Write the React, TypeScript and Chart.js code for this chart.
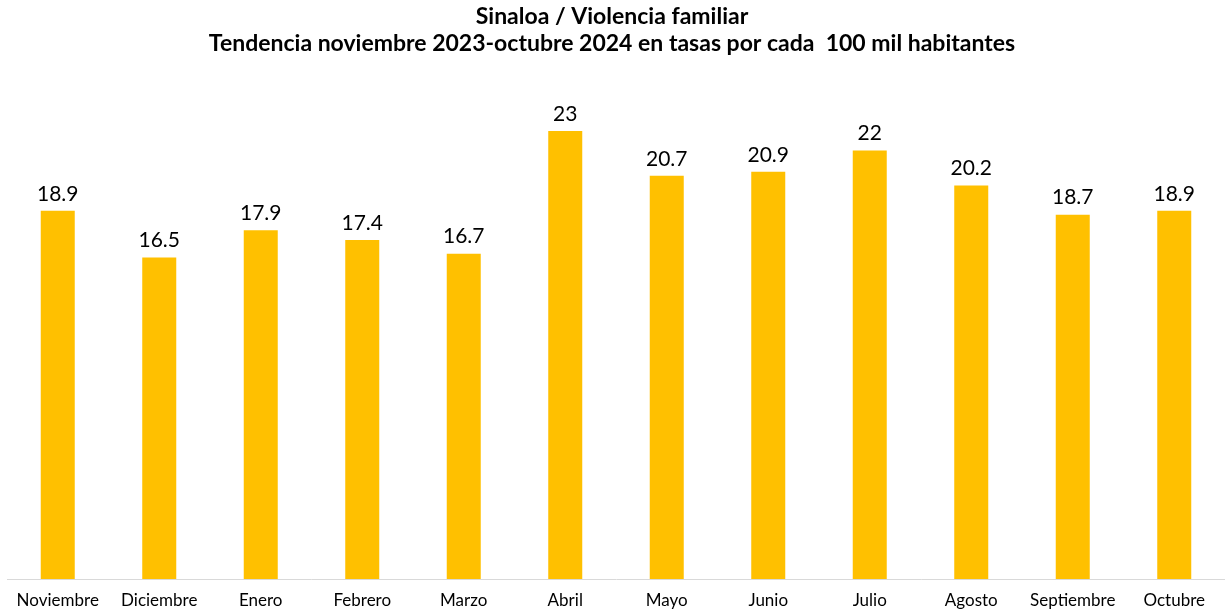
import React, { useEffect, useRef } from "react";
import { Chart, registerables } from "chart.js";

Chart.register(...registerables);

const categories = ["Noviembre", "Diciembre", "Enero", "Febrero", "Marzo", "Abril", "Mayo", "Junio", "Julio", "Agosto", "Septiembre", "Octubre"];
const values = [18.9, 16.5, 17.9, 17.4, 16.7, 23, 20.7, 20.9, 22, 20.2, 18.7, 18.9];
const titleLines = ["Sinaloa / Violencia familiar", "Tendencia noviembre 2023-octubre 2024 en tasas por cada  100 mil habitantes"];

const FONT = "Lato";

const titlePlugin = {
  id: "customTitle",
  afterDraw(chart: any) {
    const ctx = chart.ctx;
    ctx.save();
    ctx.fillStyle = "#000";
    ctx.textAlign = "center";
    ctx.textBaseline = "middle";
    ctx.font = `bold 23px ${FONT}`;
    ctx.fillText(titleLines[0], 612, 17);
    ctx.fillText(titleLines[1], 612, 44);
    ctx.restore();
  },
};

const labelPlugin = {
  id: "valueLabels",
  afterDatasetsDraw(chart: any) {
    const ctx = chart.ctx;
    const meta = chart.getDatasetMeta(0);
    ctx.save();
    ctx.fillStyle = "#000";
    ctx.textAlign = "center";
    ctx.textBaseline = "middle";
    ctx.font = `21px ${FONT}`;
    meta.data.forEach((bar: any, i: number) => {
      ctx.fillText(String(values[i]), bar.x, bar.y - 17);
    });
    ctx.restore();
  },
};

export default function App() {
  const ref = useRef<HTMLCanvasElement>(null);
  useEffect(() => {
    document.body.style.margin = "0";
    const chart = new Chart(ref.current!, {
      type: "bar",
      data: {
        labels: categories,
        datasets: [
          {
            data: values,
            backgroundColor: "#FFC000",
            barPercentage: 0.335,
            categoryPercentage: 1,
          },
        ],
      },
      options: {
        animation: false,
        responsive: false,
        layout: { padding: { top: 92, left: 7, right: 0, bottom: 0 } },
        plugins: { legend: { display: false }, tooltip: { enabled: false }, title: { display: false } },
        scales: {
          y: { display: false, min: 0, max: 25 },
          x: {
            grid: { display: false, drawTicks: false },
            border: { display: true, color: "#d9d9d9", width: 1 },
            ticks: { color: "#000", font: { family: FONT, size: 17 }, padding: 11, maxRotation: 0, autoSkip: false },
            afterFit(scale: any) {
              scale.height = 32;
            },
          },
        },
      },
      plugins: [titlePlugin, labelPlugin],
    });
    return () => chart.destroy();
  }, []);
  return (
    <div style={{ position: "absolute", left: 0, top: 0, width: 1225, height: 611, background: "#fff" }}>
      <canvas ref={ref} width={1225} height={611} />
    </div>
  );
}
